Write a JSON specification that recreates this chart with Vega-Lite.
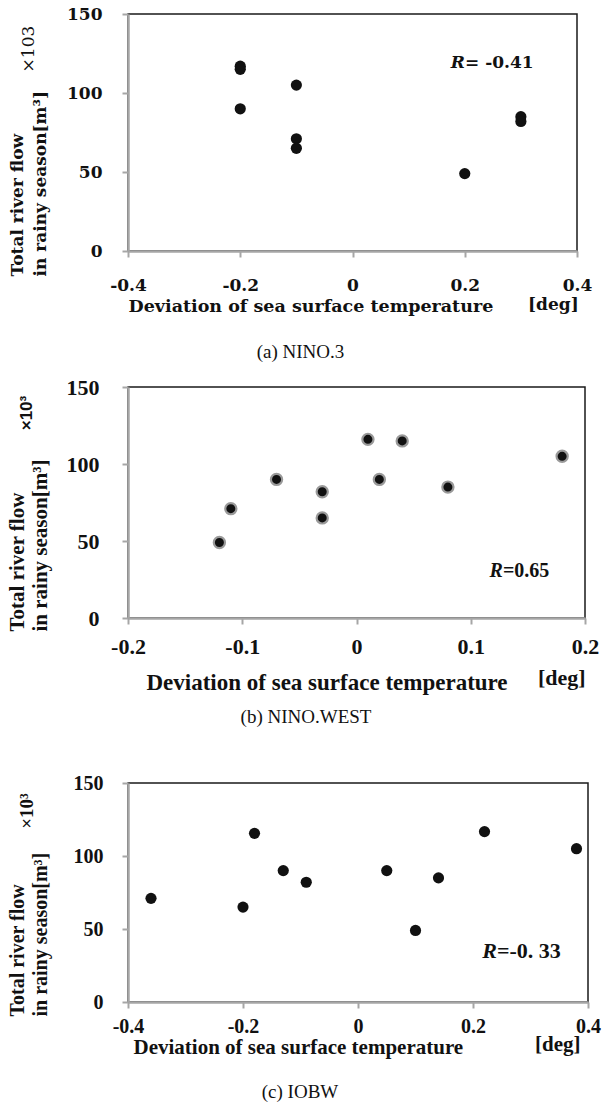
{
  "$schema": "https://vega.github.io/schema/vega-lite/v6.json",
  "background": "white",
  "padding": {"left": 5, "top": 4, "right": 0, "bottom": 0},
  "config": {
    "view": {"stroke": "#1a1a1a", "strokeWidth": 1.5},
    "axis": {"domainColor": "#a6a6a6", "domainWidth": 2.5, "tickColor": "#a6a6a6", "tickWidth": 2, "tickSize": 6, "grid": false, "labelColor": "#111", "titleColor": "#111", "labelFlush": false, "labelOverlap": false},
    "text": {"color": "#111"}
  },
  "spacing": 12,
  "vconcat": [
    {
      "width": 449,
      "height": 237,
      "title": {"text": "(a) NINO.3", "orient": "bottom", "anchor": "middle", "dx": -52, "offset": 28, "font": "Liberation Serif", "fontSize": 19, "fontWeight": "normal", "color": "#111"},
      "encoding": {
        "x": {"field": "x", "type": "quantitative", "scale": {"domain": [-0.4, 0.4], "nice": false, "zero": false},
          "axis": {"values": [-0.4, -0.2, 0, 0.2, 0.4], "labelExpr": "replace(format(datum.value, '~g'), '−', '-')", "labelFont": "DejaVu Serif", "labelFontSize": 17, "labelFontWeight": "bold", "labelPadding": 20,
            "title": "Deviation of sea surface temperature", "titleFont": "DejaVu Serif", "titleFontSize": 17.5, "titleFontWeight": "bold", "titleAlign": "left", "titleBaseline": "alphabetic", "titleX": 0, "titleY": 60}},
        "y": {"field": "y", "type": "quantitative", "scale": {"domain": [0, 150], "nice": false, "zero": false},
          "axis": {"values": [0, 50, 100, 150], "labelFont": "DejaVu Serif", "labelFontSize": 17, "labelFontWeight": "bold", "labelPadding": 20,
            "title": ["Total river flow", "in rainy season[m³]"], "titleFont": "DejaVu Serif", "titleFontSize": 17, "titleFontWeight": "bold", "titleAngle": 270, "titleAlign": "left", "titleBaseline": "middle", "titleLineHeight": 22.5, "titleX": -110.5, "titleY": 262}}
      },
      "layer": [
        {"data": {"values": [
          {"x": -0.2, "y": 117}, {"x": -0.2, "y": 115}, {"x": -0.2, "y": 90},
          {"x": -0.1, "y": 105}, {"x": -0.1, "y": 71}, {"x": -0.1, "y": 65},
          {"x": 0.2, "y": 49}, {"x": 0.3, "y": 85}, {"x": 0.3, "y": 82}
        ]}, "mark": {"type": "circle", "size": 125, "color": "#111", "opacity": 1}},
        {"data": {"values": [{"x": 0.2004, "y": 119, "t": "R"}]}, "mark": {"type": "text", "align": "right", "baseline": "middle", "font": "DejaVu Serif", "fontSize": 17, "fontWeight": "bold", "fontStyle": "italic"}, "encoding": {"text": {"field": "t"}}},
        {"data": {"values": [{"x": 0.2004, "y": 119, "t": "= -0.41"}]}, "mark": {"type": "text", "align": "left", "baseline": "middle", "font": "DejaVu Serif", "fontSize": 17, "fontWeight": "bold"}, "encoding": {"text": {"field": "t"}}},
        {"data": {"values": [{"x": -0.576, "y": 127.8, "t": "×103"}]}, "mark": {"type": "text", "align": "center", "baseline": "middle", "angle": 270, "font": "DejaVu Serif", "fontSize": 17}, "encoding": {"text": {"field": "t"}}},
        {"data": {"values": [{"x": 0.3127, "y": -37.3, "t": "[deg]"}]}, "mark": {"type": "text", "align": "left", "baseline": "alphabetic", "font": "DejaVu Serif", "fontSize": 17, "fontWeight": "bold"}, "encoding": {"text": {"field": "t"}}}
      ]
    },
    {
      "width": 457,
      "height": 231,
      "encoding": {
        "x": {"field": "x", "type": "quantitative", "scale": {"domain": [-0.2, 0.2], "nice": false, "zero": false},
          "axis": {"values": [-0.2, -0.1, 0, 0.1, 0.2], "labelExpr": "replace(format(datum.value, '~g'), '−', '-')", "labelFont": "Liberation Serif", "labelFontSize": 22, "labelFontWeight": "bold", "labelPadding": 12.5,
            "title": "Deviation of sea surface temperature", "titleFont": "Liberation Serif", "titleFontSize": 23, "titleFontWeight": "bold", "titleAlign": "left", "titleBaseline": "alphabetic", "titleX": 18, "titleY": 71}},
        "y": {"field": "y", "type": "quantitative", "scale": {"domain": [0, 150], "nice": false, "zero": false},
          "axis": {"values": [0, 50, 100, 150], "labelFont": "Liberation Serif", "labelFontSize": 22, "labelFontWeight": "bold", "labelPadding": 23,
            "title": ["Total river flow", "in rainy season[m³]"], "titleFont": "Liberation Serif", "titleFontSize": 21, "titleFontWeight": "bold", "titleAngle": 270, "titleAlign": "left", "titleBaseline": "middle", "titleLineHeight": 22.5, "titleX": -110.5, "titleY": 244}}
      },
      "layer": [
        {"data": {"values": [
          {"x": -0.12, "y": 49}, {"x": -0.11, "y": 71}, {"x": -0.07, "y": 90},
          {"x": -0.03, "y": 82}, {"x": -0.03, "y": 65}, {"x": 0.01, "y": 116},
          {"x": 0.02, "y": 90}, {"x": 0.04, "y": 115}, {"x": 0.08, "y": 85}, {"x": 0.18, "y": 105}
        ]}, "mark": {"type": "circle", "size": 125, "color": "#111", "opacity": 1, "stroke": "#9a9a9a", "strokeWidth": 2.2}},
        {"data": {"values": [{"x": 0.1282, "y": 30.5, "t": "R"}]}, "mark": {"type": "text", "align": "right", "baseline": "middle", "font": "Liberation Serif", "fontSize": 20, "fontWeight": "bold", "fontStyle": "italic"}, "encoding": {"text": {"field": "t"}}},
        {"data": {"values": [{"x": 0.1282, "y": 30.5, "t": "=0.65"}]}, "mark": {"type": "text", "align": "left", "baseline": "middle", "font": "Liberation Serif", "fontSize": 20, "fontWeight": "bold"}, "encoding": {"text": {"field": "t"}}},
        {"data": {"values": [{"x": -0.2884, "y": 133.1, "t": "×10³"}]}, "mark": {"type": "text", "align": "center", "baseline": "middle", "angle": 270, "font": "Liberation Sans", "fontSize": 17, "fontWeight": "bold"}, "encoding": {"text": {"field": "t"}}},
        {"data": {"values": [{"x": 0.1589, "y": -43.5, "t": "[deg]"}]}, "mark": {"type": "text", "align": "left", "baseline": "alphabetic", "font": "Liberation Serif", "fontSize": 22, "fontWeight": "bold"}, "encoding": {"text": {"field": "t"}}}
      ]
    },
    {
      "width": 460,
      "height": 219,
      "title": {"text": "(c) IOBW", "orient": "bottom", "anchor": "middle", "dx": -58, "offset": 25, "font": "Liberation Serif", "fontSize": 19, "fontWeight": "normal", "color": "#111"},
      "encoding": {
        "x": {"field": "x", "type": "quantitative", "scale": {"domain": [-0.4, 0.4], "nice": false, "zero": false},
          "axis": {"values": [-0.4, -0.2, 0, 0.2, 0.4], "labelExpr": "replace(format(datum.value, '~g'), '−', '-')", "labelFont": "Liberation Serif", "labelFontSize": 20, "labelFontWeight": "bold", "labelPadding": 8,
            "title": "Deviation of sea surface temperature", "titleFont": "Liberation Serif", "titleFontSize": 21, "titleFontWeight": "bold", "titleAlign": "left", "titleBaseline": "alphabetic", "titleX": 5, "titleY": 51.5}},
        "y": {"field": "y", "type": "quantitative", "scale": {"domain": [0, 150], "nice": false, "zero": false},
          "axis": {"values": [0, 50, 100, 150], "labelFont": "Liberation Serif", "labelFontSize": 20, "labelFontWeight": "bold", "labelPadding": 19,
            "title": ["Total river flow", "in rainy season[m³]"], "titleFont": "Liberation Serif", "titleFontSize": 20, "titleFontWeight": "bold", "titleAngle": 270, "titleAlign": "left", "titleBaseline": "middle", "titleLineHeight": 23, "titleX": -110.5, "titleY": 233}}
      },
      "layer": [
        {"data": {"values": [
          {"x": -0.36, "y": 71}, {"x": -0.2, "y": 65}, {"x": -0.18, "y": 115.5},
          {"x": -0.13, "y": 90}, {"x": -0.09, "y": 82}, {"x": 0.05, "y": 90},
          {"x": 0.1, "y": 49}, {"x": 0.14, "y": 85}, {"x": 0.22, "y": 116.7}, {"x": 0.38, "y": 105}
        ]}, "mark": {"type": "circle", "size": 125, "color": "#111", "opacity": 1}},
        {"data": {"values": [{"x": 0.2417, "y": 35, "t": "R"}]}, "mark": {"type": "text", "align": "right", "baseline": "middle", "font": "Liberation Serif", "fontSize": 22, "fontWeight": "bold", "fontStyle": "italic"}, "encoding": {"text": {"field": "t"}}},
        {"data": {"values": [{"x": 0.2417, "y": 35, "t": "=-0. 33"}]}, "mark": {"type": "text", "align": "left", "baseline": "middle", "font": "Liberation Serif", "fontSize": 22, "fontWeight": "bold"}, "encoding": {"text": {"field": "t"}}},
        {"data": {"values": [{"x": -0.575, "y": 130.8, "t": "×10³"}]}, "mark": {"type": "text", "align": "center", "baseline": "middle", "angle": 270, "font": "Liberation Serif", "fontSize": 19, "fontWeight": "bold"}, "encoding": {"text": {"field": "t"}}},
        {"data": {"values": [{"x": 0.3078, "y": -33.6, "t": "[deg]"}]}, "mark": {"type": "text", "align": "left", "baseline": "alphabetic", "font": "Liberation Serif", "fontSize": 21, "fontWeight": "bold"}, "encoding": {"text": {"field": "t"}}},
        {"data": {"values": [{"x": -0.0904, "y": 195.2, "t": "(b) NINO.WEST"}]}, "mark": {"type": "text", "align": "center", "baseline": "middle", "font": "Liberation Serif", "fontSize": 19}, "encoding": {"text": {"field": "t"}}}
      ]
    }
  ]
}
